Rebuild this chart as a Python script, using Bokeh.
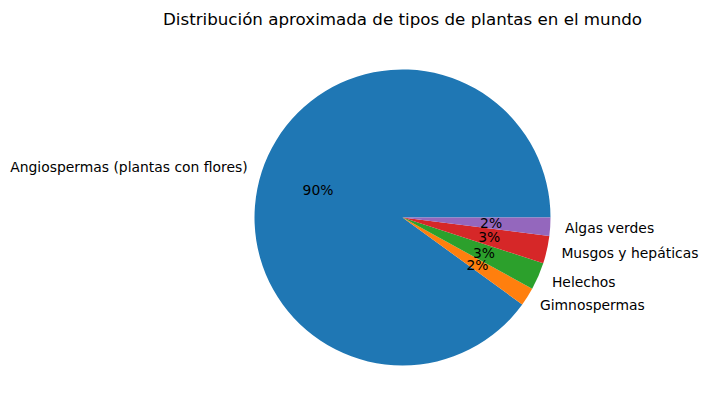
import numpy as np
from bokeh.plotting import figure
from bokeh.models import ColumnDataSource
from bokeh.core.properties import value
from bokeh.embed import file_html
from bokeh.resources import INLINE

categories = ["Angiospermas (plantas con flores)", "Gimnospermas", "Helechos",
              "Musgos y hepáticas", "Algas verdes"]
values = [90, 2, 3, 3, 2]
colors = ["#1f77b4", "#ff7f0e", "#2ca02c", "#d62728", "#9467bd"]
title = "Distribución aproximada de tipos de plantas en el mundo"

W, H = 699, 404
# pie centre in px and radius in px
cx, cy, R = 402.0, 217.0, 148.0
x0 = -cx / R
x1 = (W - cx) / R
y1 = cy / R
y0 = -(H - cy) / R

p = figure(width=W, height=H, x_range=(x0, x1), y_range=(y0, y1),
           output_backend="svg", toolbar_location=None, min_border=0)
p.axis.visible = False
p.grid.visible = False
p.outline_line_color = None
p.background_fill_color = "white"
p.border_fill_color = "white"

vals = np.array(values, dtype=float)
frac = vals / vals.sum()
ends = np.cumsum(frac) * 2 * np.pi
starts = ends - frac * 2 * np.pi
mids = (starts + ends) / 2

src = ColumnDataSource(dict(start=starts, end=ends, color=colors))
p.wedge(x=0, y=0, radius=1.0, start_angle="start", end_angle="end",
        color="color", line_color=None, source=src)

lx = 1.1 * np.cos(mids)
ly = 1.1 * np.sin(mids)
align = ["left" if v > 0 else "right" for v in lx]
lsrc = ColumnDataSource(dict(x=lx, y=ly, t=categories, a=align))
p.text(x="x", y="y", text="t", text_align="a", text_baseline="middle",
       text_font=value("DejaVu Sans"), text_font_size="13.9px",
       text_color="black", source=lsrc)

px = 0.6 * np.cos(mids)
py = 0.6 * np.sin(mids)
pct = ["%1.0f%%" % (f * 100) for f in frac]
psrc = ColumnDataSource(dict(x=px, y=py, t=pct))
p.text(x="x", y="y", text="t", text_align="center", text_baseline="middle",
       text_font=value("DejaVu Sans"), text_font_size="13.9px",
       text_color="black", source=psrc)

p.text(x=[0], y=[(cy - 18) / R], text=[title], text_align="center",
       text_baseline="middle", text_font=value("DejaVu Sans"),
       text_font_size="16.7px", text_color="black")

open("out.html", "w").write(file_html(p, INLINE))
